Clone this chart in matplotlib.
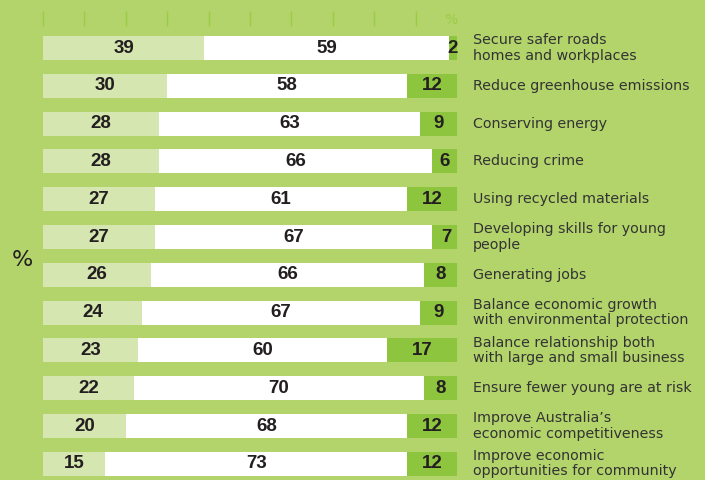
import matplotlib
matplotlib.use("Agg")
import matplotlib.pyplot as plt
import numpy as np

labels = [
    "Secure safer roads\nhomes and workplaces",
    "Reduce greenhouse emissions",
    "Conserving energy",
    "Reducing crime",
    "Using recycled materials",
    "Developing skills for young\npeople",
    "Generating jobs",
    "Balance economic growth\nwith environmental protection",
    "Balance relationship both\nwith large and small business",
    "Ensure fewer young are at risk",
    "Improve Australia\u2019s\neconomic competitiveness",
    "Improve economic\nopportunities for community",
]
seg1 = [39, 30, 28, 28, 27, 27, 26, 24, 23, 22, 20, 15]
seg2 = [59, 58, 63, 66, 61, 67, 66, 67, 60, 70, 68, 73]
seg3 = [2, 12, 9, 6, 12, 7, 8, 9, 17, 8, 12, 12]
tick_values = list(range(0, 100, 10))

BG = "#b2d46b"
C1 = "#d5e6b1"
C2 = "#ffffff"
C3 = "#8dc53e"
TICK = "#9ccb45"
TXT = "#231f20"

fig = plt.figure(figsize=(7.05, 4.8), dpi=100, facecolor=BG)
ax = fig.add_axes([43/705, 0, 414/705, 1])
ax.set_facecolor(BG)
pitch = 37.8
top = -48/pitch
bottom = (480-48)/pitch
ax.set_ylim(bottom, top)
ax.set_xlim(0, 100)
ax.axis("off")

y = np.arange(len(labels))
h = 24/pitch
s1 = np.array(seg1); s2 = np.array(seg2); s3 = np.array(seg3)
ax.barh(y, s1, height=h, color=C1, linewidth=0)
ax.barh(y, s2, left=s1, height=h, color=C2, linewidth=0)
ax.barh(y, s3, left=s1+s2, height=h, color=C3, linewidth=0)

nf = dict(family="Liberation Sans", weight="bold", fontsize=13.5, color=TXT,
          va="center", ha="center")
for i in range(len(labels)):
    ax.text(s1[i]/2, y[i], str(seg1[i]), **nf)
    ax.text(s1[i] + s2[i]/2, y[i], str(seg2[i]), **nf)
    ax.text(s1[i] + s2[i] + s3[i]/2, y[i], str(seg3[i]), **nf)
    ax.text(103.9, y[i], labels[i], family="DejaVu Sans", fontsize=10.3,
            color="#333333", va="center", ha="left", clip_on=False,
            linespacing=1.12)

ax.vlines(tick_values, (11-48)/pitch, (26-48)/pitch, color=TICK, linewidth=1.0,
          clip_on=False)
ax.text(98.5, (20-48)/pitch, "%", family="DejaVu Sans", fontsize=10, color=TICK,
        ha="center", va="center")

fig.text(22/705, 1-260/480, "%", family="DejaVu Sans", fontsize=16, color=TXT,
         ha="center", va="center")

fig.savefig("out.png", dpi=100, facecolor=BG)
